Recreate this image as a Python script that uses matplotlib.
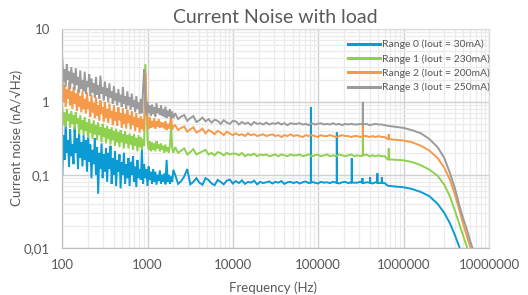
import numpy as np
import matplotlib
matplotlib.use("Agg")
import matplotlib.pyplot as plt
from matplotlib.ticker import FixedLocator, FixedFormatter, LogLocator, NullFormatter
from matplotlib.lines import Line2D

plt.rcParams['font.family'] = ['Lato', 'DejaVu Sans']

# ---------------- data ----------------
series_names = ["Range 0 (Iout = 30mA)", "Range 1 (Iout = 230mA)",
                "Range 2 (Iout = 200mA)", "Range 3 (Iout = 250mA)"]
colors = ["#0a9bd4", "#8fd14f", "#f59a4a", "#9b9b9b"]

# low-frequency segment (100 Hz .. 2 kHz)
freq_a = np.geomspace(100, 2000, 100)
blue_a = [0.1, 0.35, 0.16, 0.53, 0.2, 0.3, 0.13, 0.42, 0.18, 0.26,
          0.14, 0.45, 0.2, 0.32, 0.12, 0.38, 0.17, 0.28, 0.13, 0.35,
          0.16, 0.3, 0.11, 0.38, 0.15, 0.26, 0.09, 0.22, 0.14, 0.32,
          0.1, 0.24, 0.055, 0.2, 0.12, 0.27, 0.09, 0.19, 0.11, 0.23,
          0.08, 0.2, 0.12, 0.25, 0.075, 0.17, 0.1, 0.21, 0.07, 0.16,
          0.11, 0.19, 0.065, 0.15, 0.1, 0.2, 0.075, 0.14, 0.09, 0.17,
          0.07, 0.15, 0.1, 0.18, 0.08, 0.13, 0.068, 0.16, 0.09, 0.12,
          0.085, 0.22, 0.075, 0.14, 0.09, 0.12, 0.07, 0.13, 0.085, 0.11,
          0.075, 0.12, 0.08, 0.11, 0.073, 0.1, 0.082, 0.115, 0.076, 0.1,
          0.08, 0.105, 0.074, 0.16, 0.08, 0.1, 0.075, 0.095, 0.08, 0.117]
green_a = [0.85, 0.48, 0.72, 0.45, 0.8, 0.55, 0.68, 0.44, 0.75, 0.5,
           0.66, 0.42, 0.72, 0.5, 0.6, 0.36, 0.66, 0.42, 0.56, 0.35,
           0.62, 0.4, 0.52, 0.32, 0.58, 0.38, 0.5, 0.31, 0.56, 0.36,
           0.48, 0.3, 0.52, 0.35, 0.45, 0.28, 0.5, 0.33, 0.44, 0.27,
           0.47, 0.31, 0.42, 0.26, 0.45, 0.3, 0.4, 0.25, 0.43, 0.28,
           0.38, 0.24, 0.41, 0.28, 0.36, 0.23, 0.4, 0.27, 0.35, 0.23,
           0.37, 0.26, 0.34, 0.22, 0.36, 0.25, 0.32, 0.21, 0.35, 0.24,
           0.33, 0.22, 0.31, 0.25, 3.3, 1.0, 0.3, 0.22, 0.29, 0.21,
           0.28, 0.22, 0.27, 0.21, 0.29, 0.23, 0.26, 0.21, 0.27, 0.22,
           0.25, 0.2, 0.26, 0.21, 0.24, 0.2, 0.25, 0.48, 0.23, 0.2]
orange_a = [2.9, 1.0, 1.7, 0.85, 1.5, 1.1, 1.85, 0.9, 1.4, 0.8,
            1.6, 0.95, 1.3, 0.75, 1.5, 0.85, 1.2, 0.72, 1.4, 0.8,
            1.1, 0.7, 1.35, 0.8, 1.0, 0.62, 1.25, 0.72, 0.95, 0.6,
            1.15, 0.65, 0.9, 0.55, 1.05, 0.68, 0.85, 0.53, 1.0, 0.6,
            0.8, 0.52, 0.95, 0.6, 0.75, 0.48, 0.9, 0.55, 0.72, 0.47,
            0.85, 0.56, 0.7, 0.44, 0.82, 0.5, 0.68, 0.43, 0.78, 0.52,
            0.65, 0.42, 0.75, 0.48, 0.62, 0.4, 0.7, 0.45, 0.6, 0.38,
            0.64, 0.42, 0.58, 0.4, 2.5, 0.9, 0.56, 0.42, 0.62, 0.44,
            0.55, 0.45, 0.6, 0.43, 0.54, 0.46, 0.58, 0.44, 0.53, 0.45,
            0.52, 0.43, 0.55, 0.41, 0.5, 0.43, 0.49, 0.66, 0.42, 0.46]
gray_a = [3.9, 1.9, 2.8, 1.6, 3.3, 2.0, 2.6, 1.5, 3.0, 1.8,
          2.5, 1.45, 2.9, 1.7, 2.2, 1.35, 2.7, 1.5, 2.0, 1.4,
          2.6, 1.3, 1.9, 1.6, 2.4, 1.2, 2.1, 1.35, 1.8, 1.15,
          2.2, 1.25, 1.7, 1.1, 2.3, 1.3, 1.6, 1.05, 1.9, 1.2,
          1.55, 1.0, 1.8, 1.15, 1.4, 0.95, 1.65, 1.05, 1.3, 0.9,
          1.5, 1.0, 1.25, 0.85, 1.6, 0.95, 1.2, 0.8, 1.4, 0.9,
          1.15, 0.78, 1.3, 0.85, 1.05, 0.72, 1.2, 0.8, 0.98, 0.68,
          1.1, 0.7, 1.5, 2.8, 0.95, 0.66, 1.0, 0.7, 0.9, 0.64,
          0.92, 0.68, 0.85, 0.63, 0.96, 0.7, 0.82, 0.66, 0.9, 0.64,
          0.8, 0.62, 0.86, 0.6, 0.76, 0.63, 0.8, 0.59, 0.74, 0.6]

# flat segment (2.1 kHz .. 600 kHz)
freq_b = np.geomspace(2100, 600000, 70)
blue_b = [0.1, 0.075, 0.082, 0.095, 0.12, 0.074, 0.08, 0.09, 0.078, 0.073,
          0.09, 0.085, 0.076, 0.072, 0.085, 0.08, 0.074, 0.083, 0.086, 0.076,
          0.082, 0.077, 0.084, 0.075, 0.08, 0.078, 0.083, 0.074, 0.08, 0.077,
          0.079, 0.081, 0.076, 0.08, 0.078, 0.082, 0.075, 0.079, 0.08, 0.077,
          0.08, 0.076, 0.079, 0.081, 0.077, 0.08, 0.078, 0.076, 0.08, 0.078,
          0.079, 0.077, 0.08, 0.078, 0.076, 0.079, 0.08, 0.077, 0.079, 0.078,
          0.078, 0.08, 0.077, 0.079, 0.078, 0.076, 0.079, 0.077, 0.078, 0.077]
green_b = [0.24, 0.2, 0.215, 0.23, 0.19, 0.205, 0.225, 0.19, 0.2, 0.21,
           0.22, 0.19, 0.2, 0.185, 0.205, 0.198, 0.185, 0.2, 0.19, 0.195,
           0.195, 0.185, 0.2, 0.18, 0.19, 0.185, 0.195, 0.18, 0.19, 0.185,
           0.19, 0.18, 0.185, 0.19, 0.18, 0.19, 0.185, 0.18, 0.19, 0.185,
           0.185, 0.19, 0.18, 0.185, 0.19, 0.18, 0.185, 0.19, 0.18, 0.185,
           0.19, 0.18, 0.185, 0.18, 0.19, 0.185, 0.18, 0.185, 0.19, 0.18,
           0.185, 0.18, 0.185, 0.19, 0.18, 0.185, 0.18, 0.185, 0.18, 0.18]
orange_b = [0.48, 0.41, 0.44, 0.46, 0.39, 0.42, 0.45, 0.38, 0.4, 0.43,
            0.37, 0.41, 0.39, 0.36, 0.4, 0.38, 0.35, 0.39, 0.37, 0.35,
            0.37, 0.35, 0.36, 0.34, 0.37, 0.35, 0.36, 0.34, 0.35, 0.36,
            0.34, 0.35, 0.36, 0.34, 0.35, 0.33, 0.35, 0.34, 0.36, 0.34,
            0.35, 0.34, 0.33, 0.35, 0.34, 0.35, 0.34, 0.33, 0.35, 0.34,
            0.34, 0.35, 0.34, 0.33, 0.34, 0.35, 0.34, 0.34, 0.33, 0.34,
            0.34, 0.33, 0.34, 0.34, 0.33, 0.34, 0.33, 0.34, 0.33, 0.33]
gray_b = [0.7, 0.58, 0.63, 0.66, 0.55, 0.6, 0.64, 0.53, 0.56, 0.61,
          0.54, 0.58, 0.52, 0.57, 0.55, 0.5, 0.56, 0.52, 0.5, 0.55,
          0.54, 0.49, 0.53, 0.5, 0.52, 0.48, 0.53, 0.5, 0.51, 0.49,
          0.52, 0.49, 0.51, 0.5, 0.52, 0.49, 0.51, 0.48, 0.51, 0.5,
          0.5, 0.51, 0.49, 0.5, 0.48, 0.51, 0.49, 0.5, 0.51, 0.49,
          0.5, 0.49, 0.51, 0.49, 0.5, 0.48, 0.5, 0.49, 0.5, 0.49,
          0.49, 0.5, 0.49, 0.5, 0.48, 0.49, 0.5, 0.49, 0.49, 0.48]

# roll-off segment
roll_f = [0.65e6, 0.8e6, 1e6, 1.25e6, 1.6e6, 2e6, 2.5e6, 3e6,
          3.5e6, 4e6, 4.5e6, 5e6, 5.5e6, 6e6, 6.5e6, 7e6]
blue_roll = [0.071, 0.069, 0.0675, 0.064, 0.058, 0.051, 0.04, 0.03,
             0.0215, 0.0148, 0.0102, 0.0072, 0.0052, 0.0039, 0.003, 0.0024]
green_roll = [0.163, 0.161, 0.158, 0.15, 0.135, 0.118, 0.097, 0.073,
              0.05, 0.032, 0.021, 0.0145, 0.0102, 0.0075, 0.0057, 0.0045]
orange_roll = [0.31, 0.302, 0.295, 0.28, 0.25, 0.215, 0.17, 0.125,
               0.085, 0.053, 0.033, 0.021, 0.0145, 0.0105, 0.008, 0.0062]
gray_roll = [0.47, 0.455, 0.44, 0.41, 0.37, 0.31, 0.24, 0.17,
             0.105, 0.065, 0.038, 0.025, 0.018, 0.0125, 0.0095, 0.0075]

# narrow spurs: frequency, base level, peak level
blue_spur_f = [82e3, 165e3, 247e3, 329e3, 405e3, 493e3, 556e3]
blue_spur_base = [0.078, 0.078, 0.078, 0.078, 0.078, 0.078, 0.078]
blue_spur_peak = [0.84, 0.38, 0.168, 0.09, 0.093, 0.105, 0.092]
green_spur_f = [333e3, 670e3]
green_spur_base = [0.185, 0.163]
green_spur_peak = [0.34, 0.23]
orange_spur_f = [333e3, 670e3]
orange_spur_base = [0.34, 0.31]
orange_spur_peak = [0.5, 0.36]
gray_spur_f = [333e3]
gray_spur_base = [0.49]
gray_spur_peak = [1.0]

xtick_vals = [1e2, 1e3, 1e4, 1e5, 1e6, 1e7]
xtick_labels = ["100", "1000", "10000", "100000", "1000000", "10000000"]
ytick_vals = [0.01, 0.1, 1, 10]
ytick_labels = ["0,01", "0,1", "1", "10"]


def assemble(va, vb, vroll, sf, sbase, speak):
    f = list(freq_a) + list(freq_b) + list(roll_f)
    v = list(va) + list(vb) + list(vroll)
    for fs, b, p in zip(sf, sbase, speak):
        f += [fs * 0.996, fs, fs * 1.004]
        v += [b, p, b]
    f = np.array(f)
    v = np.array(v)
    o = np.argsort(f)
    return f[o], v[o]


all_series = [
    assemble(blue_a, blue_b, blue_roll, blue_spur_f, blue_spur_base, blue_spur_peak),
    assemble(green_a, green_b, green_roll, green_spur_f, green_spur_base, green_spur_peak),
    assemble(orange_a, orange_b, orange_roll, orange_spur_f, orange_spur_base, orange_spur_peak),
    assemble(gray_a, gray_b, gray_roll, gray_spur_f, gray_spur_base, gray_spur_peak),
]

# ---------------- plot ----------------
txt = "#595959"
fig = plt.figure(figsize=(5.28, 2.95), dpi=100)
ax = fig.add_axes([0.118, 0.1603, 0.808, 0.7414])

for (f, v), c in zip(all_series, colors):
    ax.plot(f, v, color=c, lw=1.4, solid_joinstyle="miter")

ax.set_xscale("log")
ax.set_yscale("log")
ax.set_xlim(1e2, 1e7)
ax.set_ylim(0.01, 10)

ax.xaxis.set_major_locator(FixedLocator(xtick_vals))
ax.xaxis.set_major_formatter(FixedFormatter(xtick_labels))
ax.yaxis.set_major_locator(FixedLocator(ytick_vals))
ax.yaxis.set_major_formatter(FixedFormatter(ytick_labels))
ax.xaxis.set_minor_locator(LogLocator(base=10, subs=np.arange(2, 10)))
ax.yaxis.set_minor_locator(LogLocator(base=10, subs=np.arange(2, 10)))
ax.xaxis.set_minor_formatter(NullFormatter())
ax.yaxis.set_minor_formatter(NullFormatter())

ax.grid(which="major", color="#d0d0d0", lw=1.0)
ax.grid(which="minor", color="#ebebeb", lw=0.9)
ax.set_axisbelow(True)

ax.tick_params(which="both", length=0)
ax.tick_params(axis="x", pad=8, labelsize=9.5, labelcolor=txt)
ax.tick_params(axis="y", pad=9, labelsize=9.5, labelcolor=txt)

for side in ["top", "right"]:
    ax.spines[side].set_color("#dcdcdc")
for side in ["left", "bottom"]:
    ax.spines[side].set_color("#bfbfbf")
for s in ax.spines.values():
    s.set_linewidth(0.9)

ax.set_title("Current Noise with load", fontsize=14, color=txt, pad=4)
ax.set_xlabel("Frequency (Hz)", fontsize=9.5, color=txt, va="center")
ax.xaxis.set_label_coords(0.494, -0.184)
ax.set_ylabel("Current noise (nA/\u221aHz)", fontsize=9.5, color=txt, va="center")
ax.yaxis.set_label_coords(-0.107, 0.5)

handles = [Line2D([0], [0], color=c, lw=2.2) for c in colors]
leg = ax.legend(handles, series_names, loc="upper right",
                bbox_to_anchor=(1.003, 0.95), frameon=False,
                fontsize=7.5, handlelength=3.0, handletextpad=0.25,
                labelspacing=0.45, borderaxespad=0, borderpad=0)
for t in leg.get_texts():
    t.set_color(txt)

fig.savefig("out.png", dpi=100)
